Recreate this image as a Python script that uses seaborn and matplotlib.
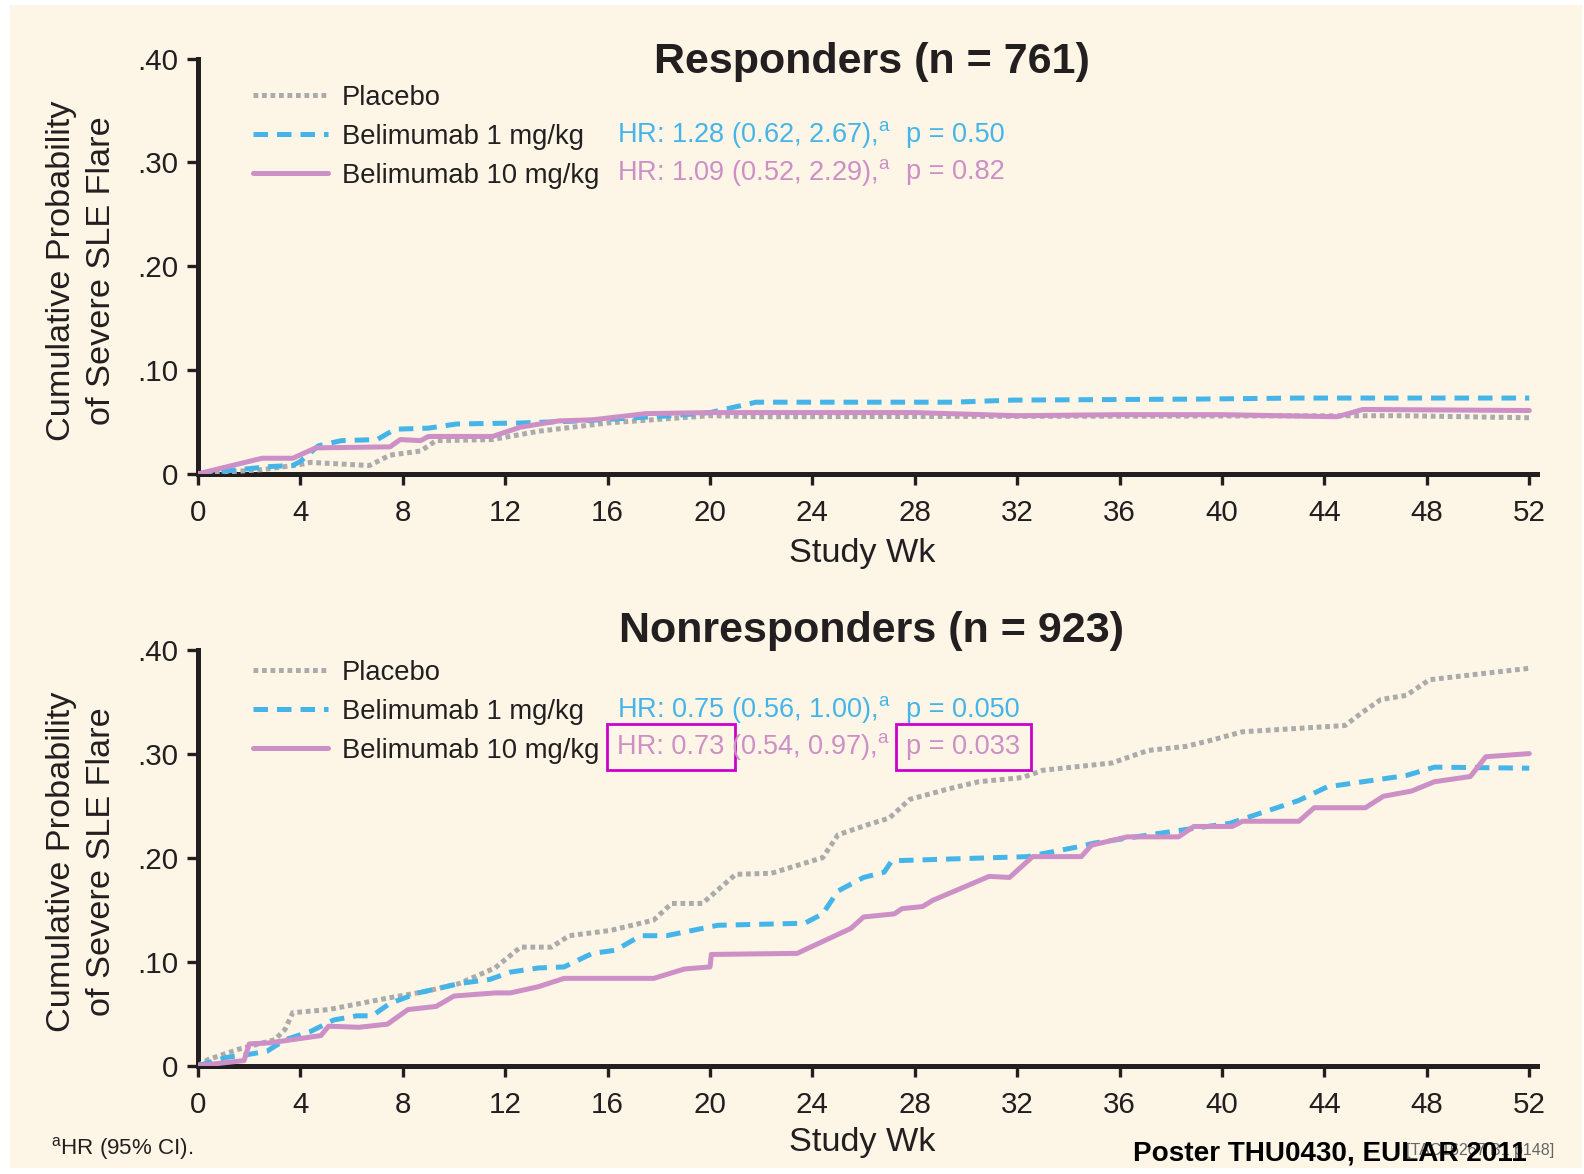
import numpy as np
import pandas as pd
import matplotlib
matplotlib.use("Agg")
import matplotlib.pyplot as plt
import seaborn as sns
from matplotlib import font_manager
from matplotlib.lines import Line2D
from matplotlib.patches import Rectangle

# ---------------- data ----------------
groups = ["Placebo", "Belimumab 1 mg/kg", "Belimumab 10 mg/kg"]
week_ticks = list(range(0, 53, 4))
prob_ticks = [0, 0.10, 0.20, 0.30, 0.40]
prob_tick_labels = ["0", ".10", ".20", ".30", ".40"]

# Responders (n = 761)
resp_pbo_wk = [0, 2.5, 4, 4.4, 6.7, 7.5, 8.7, 9.3, 11.5, 13.3, 16, 20, 22, 47, 52]
resp_pbo_p = [0, .004, .009, .011, .008, .018, .022, .032, .033, .041, .049, .056, .055, .056, .054]
resp_b1_wk = [0, 2, 2.8, 3.7, 4, 4.7, 5.6, 7, 7.7, 9, 10.1, 12.6, 15, 18.5, 20, 21.8, 29.5, 31.8, 39, 43, 52]
resp_b1_p = [0, .005, .007, .008, .012, .027, .032, .033, .043, .044, .048, .049, .051, .056, .059, .069, .069, .071, .072, .073, .073]
resp_b10_wk = [0, 2.5, 3.7, 4.6, 7.5, 7.9, 8.7, 9, 11.5, 12.6, 14.1, 15.4, 17.5, 20, 24, 28, 32, 36, 40, 44.5, 45.5, 52]
resp_b10_p = [0, .015, .015, .025, .026, .033, .032, .036, .036, .045, .051, .052, .058, .059, .059, .059, .056, .057, .057, .055, .062, .061]

# Nonresponders (n = 923)
non_pbo_wk = [0, 0.4, 1.6, 3, 3.4, 3.7, 5.1, 7.4, 8.8, 10.2, 11.6, 12.6, 13.8, 14.5, 16.1, 17.8, 18.5,
              19.7, 21, 22.4, 24.4, 25, 26.2, 27, 27.8, 29.3, 30.5, 32.2, 33, 35.7, 37.1, 38.6, 39.6,
              40.8, 44.8, 45.5, 46.2, 47.2, 48.1, 50.2, 52]
non_pbo_p = [0, .006, .016, .025, .035, .051, .054, .065, .071, .079, .094, .114, .114, .125, .130, .140, .156,
             .156, .184, .185, .200, .222, .232, .238, .256, .266, .273, .277, .284, .291, .303, .307, .313,
             .321, .327, .340, .352, .356, .371, .377, .382]
non_b1_wk = [0, 1.1, 2, 2.7, 3.4, 4.4, 5.3, 6.2, 6.8, 7.5, 8.6, 9.5, 10.2, 11.4, 12.2, 13.3, 14.3, 15.4,
             16.3, 17.3, 18.3, 20.3, 22, 23.7, 24.4, 25, 26, 26.8, 27.1, 32.4, 34.5, 35, 38, 40.3, 43,
             44.1, 47.2, 48.3, 52]
non_b1_p = [0, .008, .011, .014, .025, .033, .044, .048, .048, .060, .070, .075, .079, .083, .090, .094, .095, .108,
            .111, .125, .125, .135, .136, .137, .146, .168, .181, .186, .197, .201, .211, .214, .225, .233, .255,
            .268, .279, .287, .286]
non_b10_wk = [0, 1.8, 2.0, 2.8, 4.8, 5.1, 6.3, 7.4, 8.2, 9.3, 10.0, 11.6, 12.2, 13.3, 14.3, 17.8, 19.0, 20.0,
              20.05, 23.4, 25.5, 26.0, 27.2, 27.5, 28.3, 28.7, 30.9, 31.7, 32.6, 34.5, 34.9, 36.3, 38.3, 38.9,
              40.4, 40.8, 43.0, 43.6, 45.6, 46.3, 47.4, 48.3, 49.7, 50.3, 52]
non_b10_p = [0, .005, .021, .022, .029, .038, .037, .040, .054, .057, .067, .070, .070, .076, .084, .084, .093, .095,
             .107, .108, .132, .143, .146, .151, .153, .159, .182, .181, .201, .201, .212, .220, .220, .230,
             .230, .235, .235, .248, .248, .259, .264, .273, .278, .297, .300]

resp_hr = ["HR: 1.28 (0.62, 2.67),", "HR: 1.09 (0.52, 2.29),"]
resp_p = ["p = 0.50", "p = 0.82"]
non_hr = ["HR: 0.75 (0.56, 1.00),", "HR: 0.73", "(0.54, 0.97),"]
non_p = ["p = 0.050", "p = 0.033"]


def long_df(wks, ps):
    frames = []
    for g, w, p in zip(groups, wks, ps):
        frames.append(pd.DataFrame({"week": w, "prob": p, "group": g}))
    return pd.concat(frames, ignore_index=True)


resp_df = long_df([resp_pbo_wk, resp_b1_wk, resp_b10_wk], [resp_pbo_p, resp_b1_p, resp_b10_p])
non_df = long_df([non_pbo_wk, non_b1_wk, non_b10_wk], [non_pbo_p, non_b1_p, non_b10_p])

# ---------------- style ----------------
sns.set_style("ticks")
names = {f.name for f in font_manager.fontManager.ttflist}
NARROW = "Liberation Sans Narrow" if "Liberation Sans Narrow" in names else "Liberation Sans"
SC = 1.0 if NARROW == "Liberation Sans Narrow" else 0.85
plt.rcParams["font.family"] = [NARROW, "DejaVu Sans"]
plt.rcParams["mathtext.fontset"] = "custom"
plt.rcParams["mathtext.rm"] = NARROW

INK = "#231F20"
CREAM = "#FDF5E6"
GRAY = "#ABABAB"
BLUE = "#45B5E9"
PINK = "#CC8FC6"
MAG = "#CC00CC"
palette = {groups[0]: GRAY, groups[1]: BLUE, groups[2]: PINK}
dashes = {groups[0]: (0.95, 0.75), groups[1]: (2.9, 1.8), groups[2]: ""}
LW = 3.6

fig = plt.figure(figsize=(15.84, 11.74), dpi=100, facecolor="white")
fig.patches.append(Rectangle((10 / 1584, 1 - 1168 / 1174), 1572 / 1584, 1163 / 1174,
                             transform=fig.transFigure, fc=CREAM, ec="none", zorder=-10))

ax1 = fig.add_axes([0.125, 0.5964, 0.8453, 0.3537])
ax2 = fig.add_axes([0.125, 0.0922, 0.8453, 0.3545])

for ax, df in [(ax1, resp_df), (ax2, non_df)]:
    ax.set_facecolor("none")
    sns.lineplot(data=df, x="week", y="prob", hue="group", style="group", palette=palette,
                 dashes=dashes, estimator=None, sort=False, linewidth=LW, legend=False, ax=ax,
                 zorder=3)
    ax.set_xlim(0, 52.3)
    ax.set_ylim(0, 0.40)
    ax.set_xticks(week_ticks)
    ax.set_xticklabels([str(w) for w in week_ticks])
    ax.set_yticks(prob_ticks)
    ax.set_yticklabels(prob_tick_labels)
    for s in ["top", "right"]:
        ax.spines[s].set_visible(False)
    for s in ["left", "bottom"]:
        ax.spines[s].set_linewidth(3.6)
        ax.spines[s].set_color(INK)
        ax.spines[s].set_capstyle("projecting")
    ax.tick_params(axis="both", direction="out", length=8, width=2.4, color=INK,
                   labelsize=25 * SC, labelcolor=INK, pad=6)
    ax.tick_params(axis="x", pad=10)
    ax.set_xlabel("Study Wk", fontsize=29 * SC, color=INK, va="center")
    ax.set_ylabel("Cumulative Probability\nof Severe SLE Flare", fontsize=29 * SC, color=INK,
                  va="center", linespacing=1.4)
    ax.yaxis.set_label_coords(-0.087, 0.49)

    handles = [Line2D([], [], color=GRAY, lw=LW), Line2D([], [], color=BLUE, lw=LW),
               Line2D([], [], color=PINK, lw=LW, linestyle="-")]
    handles[0].set_dashes(dashes[groups[0]])
    handles[1].set_dashes(dashes[groups[1]])
    leg_top = 0.937 if ax is ax1 else 0.976
    ax.legend(handles, groups, loc="upper left", bbox_to_anchor=(0.0408, leg_top),
              borderaxespad=0, borderpad=0, frameon=False, handlelength=2.75,
              handletextpad=0.5, labelspacing=0.48, fontsize=23.2 * SC, labelcolor=INK)

ax1.xaxis.set_label_coords(0.496, -0.192)
ax2.xaxis.set_label_coords(0.496, -0.184)

# titles
ax1.text(0.503, 0.966, "Responders (n = 761)", transform=ax1.transAxes, ha="center",
         va="baseline", fontsize=31, fontweight="bold", family="Liberation Sans", color=INK)
ax2.text(0.503, 1.019, "Nonresponders (n = 923)", transform=ax2.transAxes, ha="center",
         va="baseline", fontsize=31, fontweight="bold", family="Liberation Sans", color=INK)

SUP = r"$^{\mathregular{a}}$"
HRX, PX = 0.313, 0.529
FS = 23 * SC
# responders annotations
for txt, pt, col, yy in [(resp_hr[0], resp_p[0], BLUE, 0.816), (resp_hr[1], resp_p[1], PINK, 0.726)]:
    ax1.text(HRX, yy, txt + SUP, transform=ax1.transAxes, color=col, fontsize=FS, va="center")
    ax1.text(PX, yy, pt, transform=ax1.transAxes, color=col, fontsize=FS, va="center")

# nonresponders annotations
ax2.text(HRX, 0.855, non_hr[0] + SUP, transform=ax2.transAxes, color=BLUE, fontsize=FS, va="center")
ax2.text(PX, 0.855, non_p[0], transform=ax2.transAxes, color=BLUE, fontsize=FS, va="center")
box = dict(boxstyle="square,pad=0.38", fc="none", ec=MAG, lw=2)
ax2.text(HRX, 0.766, non_hr[1], transform=ax2.transAxes, color=PINK, fontsize=FS, va="center", bbox=box)
ax2.text(0.398, 0.766, non_hr[2] + SUP, transform=ax2.transAxes, color=PINK, fontsize=FS, va="center")
ax2.text(PX, 0.766, non_p[1], transform=ax2.transAxes, color=PINK, fontsize=FS, va="center", bbox=box)

# footer
fig.text(0.032, 1 - 1148.6 / 1174, SUP + "HR (95% CI).", fontsize=19 * SC, color=INK, va="center")
fig.text(1406 / 1584, 1 - 1151 / 1174, "[TAC16267 B1 p148]", fontsize=11.5, color="#666666",
         va="center", zorder=1)
fig.text(1133 / 1584, 1 - 1153.6 / 1174, "Poster THU0430, EULAR 2011", fontsize=23.6 * SC,
         fontweight="bold", color="black", va="center", zorder=5)

fig.savefig("out.png", dpi=100, facecolor="white")
